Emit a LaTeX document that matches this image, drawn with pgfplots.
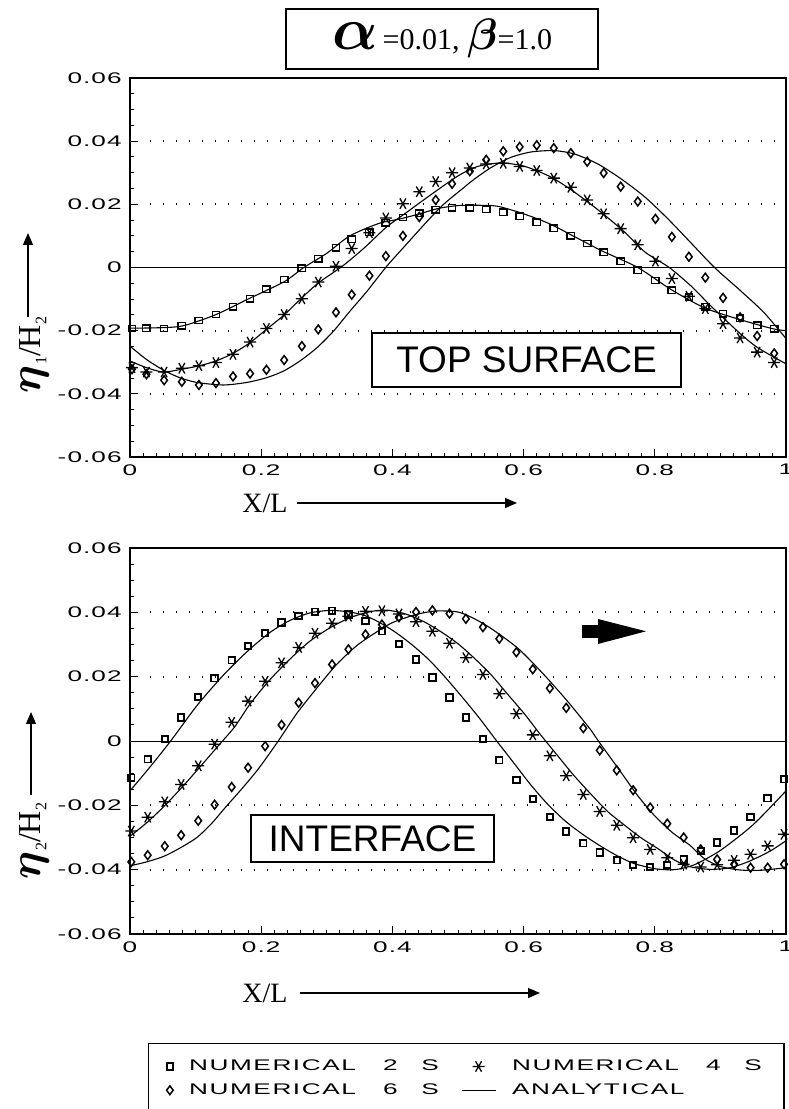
\RequirePackage{fix-cm}
\documentclass[border=0pt]{standalone}
\usepackage{amsmath}
\usepackage{bm}
\usepackage{graphicx}
\usepackage{fontspec}
\setmainfont{Liberation Serif}
\newfontfamily\labfont{Liberation Sans}[LetterSpace=4]
\newfontfamily\legfont{Liberation Sans}[LetterSpace=6]
\newfontfamily\boxfont{Liberation Sans}
\usepackage{pgfplots}
\pgfplotsset{compat=1.18}
\usetikzlibrary{arrows.meta}

\newcommand{\tl}[1]{\scalebox{1.7}[1]{\labfont\fontsize{7.7}{8}\selectfont #1}}
\newcommand{\lgd}[1]{\scalebox{1.7}[1]{\legfont\fontsize{7.7}{8}\selectfont #1}}

\pgfplotsset{
  myax/.style={
    scale only axis, width=328pt,
    xmin=0, xmax=1, ymin=-0.06, ymax=0.06,
    scaled y ticks=false, scaled x ticks=false,
    xtick={0,0.2,0.4,0.6,0.8,1},
    xticklabels={\tl{0},\tl{0.2},\tl{0.4},\tl{0.6},\tl{0.8},\tl{1}},
    ytick={-0.06,-0.04,-0.02,0,0.02,0.04,0.06},
    yticklabels={\tl{-0.06},\tl{-0.04},\tl{-0.02},\tl{0},\tl{0.02},\tl{0.04},\tl{0.06}},
    minor x tick num=9, minor y tick num=3,
    tick align=inside, tick pos=left,
    major tick length=4pt, minor tick length=2pt,
    tick style={line width=0.5pt, black},
    axis line style={line width=0.6pt},
    yticklabel style={anchor=east, inner sep=0pt, xshift=-4pt},
    xticklabel style={anchor=north, inner sep=0pt, yshift=-3.5pt},
  },
  sq/.style={only marks, mark=square, mark size=1.6pt, mark options={line width=0.7pt, xscale=1.15}},
  as/.style={only marks, mark=asterisk, mark size=3pt, mark options={line width=0.65pt, rotate=90}},
  dm/.style={only marks, mark=diamond, mark size=2.2pt, mark options={line width=0.75pt}},
  an/.style={no marks, line width=0.55pt, smooth, tension=0.45},
  dt/.style={forget plot, line width=0.9pt, dash pattern=on 0.9pt off 5.6pt},
}

\begin{document}
\begin{tikzpicture}
\useasboundingbox (0,0) rectangle (394pt,554.5pt);

% ---------------- TOP SURFACE ----------------
\begin{axis}[myax, at={(65pt,326pt)}, anchor=south west, height=189.5pt]
\addplot[forget plot, line width=0.5pt] coordinates {(0,0) (1,0)};
\addplot[dt] coordinates {(0.03,0.02) (1,0.02)};
\addplot[dt] coordinates {(0.03,0.04) (1,0.04)};
\addplot[dt] coordinates {(0.03,-0.02) (1,-0.02)};
\addplot[dt] coordinates {(0.03,-0.04) (1,-0.04)};

\addplot[sq] coordinates {
(0.003,-0.0193)(0.025,-0.0192)(0.052,-0.0193)(0.079,-0.0184)(0.105,-0.0168)
(0.131,-0.0149)(0.157,-0.0124)(0.183,-0.0099)(0.208,-0.0069)(0.235,-0.0038)
(0.262,-0.0002)(0.287,0.0028)(0.314,0.0062)(0.338,0.0090)(0.365,0.0112)
(0.390,0.0142)(0.416,0.0158)(0.441,0.0172)(0.466,0.0183)(0.491,0.0189)
(0.518,0.0189)(0.543,0.0184)(0.569,0.0175)(0.594,0.0162)(0.620,0.0144)
(0.646,0.0125)(0.672,0.0100)(0.697,0.0076)(0.722,0.0049)(0.748,0.0020)
(0.774,-0.0009)(0.801,-0.0041)(0.826,-0.0072)(0.852,-0.0094)(0.877,-0.0125)
(0.904,-0.0147)(0.930,-0.0160)(0.956,-0.0183)(0.982,-0.0194)};

\addplot[as] coordinates {
(0.003,-0.0317)(0.025,-0.0331)(0.052,-0.0331)(0.079,-0.0319)(0.105,-0.0311)
(0.131,-0.0301)(0.157,-0.0275)(0.183,-0.0236)(0.208,-0.0193)(0.235,-0.0149)
(0.262,-0.0099)(0.287,-0.0046)(0.314,0.0004)(0.338,0.0060)(0.365,0.0110)
(0.390,0.0157)(0.416,0.0202)(0.441,0.0240)(0.466,0.0272)(0.491,0.0300)
(0.518,0.0315)(0.543,0.0328)(0.569,0.0330)(0.594,0.0320)(0.620,0.0307)
(0.646,0.0283)(0.672,0.0254)(0.697,0.0214)(0.722,0.0170)(0.748,0.0123)
(0.774,0.0072)(0.801,0.0020)(0.826,-0.0035)(0.852,-0.0091)(0.877,-0.0130)
(0.904,-0.0178)(0.930,-0.0223)(0.956,-0.0268)(0.982,-0.0301)};

\addplot[dm] coordinates {
(0.003,-0.0322)(0.025,-0.0338)(0.052,-0.0357)(0.079,-0.0362)(0.105,-0.0372)
(0.131,-0.0366)(0.157,-0.0345)(0.183,-0.0336)(0.208,-0.0324)(0.235,-0.0293)
(0.262,-0.0249)(0.287,-0.0196)(0.314,-0.0142)(0.338,-0.0086)(0.365,-0.0026)
(0.390,0.0036)(0.416,0.0100)(0.441,0.0160)(0.466,0.0214)(0.491,0.0265)
(0.518,0.0305)(0.543,0.0341)(0.569,0.0368)(0.594,0.0382)(0.620,0.0387)
(0.646,0.0378)(0.672,0.0362)(0.697,0.0335)(0.722,0.0299)(0.748,0.0256)
(0.774,0.0209)(0.801,0.0154)(0.826,0.0097)(0.852,0.0034)(0.877,-0.0032)
(0.904,-0.0096)(0.930,-0.0158)(0.956,-0.0217)(0.982,-0.0272)};

\addplot[an] coordinates {
(0,-0.0192)(0.04,-0.0191)(0.08,-0.0185)(0.13,-0.0150)(0.18,-0.0100)(0.235,-0.0045)
(0.265,0)(0.30,0.0045)(0.335,0.0100)(0.38,0.0140)(0.41,0.0153)(0.44,0.0169)
(0.47,0.0187)(0.50,0.0196)(0.53,0.0197)(0.56,0.0194)(0.60,0.0170)(0.64,0.0138)
(0.68,0.0095)(0.72,0.0052)(0.774,0)(0.825,-0.0070)(0.876,-0.0128)(0.93,-0.0165)
(0.98,-0.0194)(1.0,-0.0200)};
\addplot[an] coordinates {
(0,-0.0296)(0.025,-0.0317)(0.051,-0.0331)(0.079,-0.0322)(0.104,-0.0312)(0.131,-0.0296)
(0.157,-0.0272)(0.183,-0.0238)(0.208,-0.0196)(0.234,-0.0152)(0.259,-0.0102)
(0.287,-0.0049)(0.323,0.0003)(0.356,0.0060)(0.391,0.0128)(0.422,0.0175)(0.457,0.0228)
(0.50,0.0290)(0.53,0.0320)(0.566,0.0331)(0.602,0.0320)(0.642,0.0286)(0.678,0.0238)
(0.718,0.0175)(0.754,0.0112)(0.785,0.0049)(0.822,0)(0.856,-0.0060)(0.886,-0.0123)
(0.929,-0.0207)(0.957,-0.0254)(1.0,-0.0305)};
\addplot[an] coordinates {
(0,-0.0249)(0.025,-0.0291)(0.051,-0.0325)(0.076,-0.0349)(0.102,-0.0364)(0.142,-0.0372)
(0.178,-0.0364)(0.208,-0.0349)(0.234,-0.0328)(0.259,-0.0296)(0.285,-0.0254)(0.31,-0.0202)
(0.335,-0.0139)(0.361,-0.0076)(0.391,0.0003)(0.422,0.0075)(0.452,0.0144)(0.478,0.0200)
(0.503,0.0243)(0.525,0.0280)(0.551,0.0317)(0.581,0.0349)(0.612,0.0366)(0.647,0.0370)
(0.678,0.0359)(0.713,0.0328)(0.749,0.0280)(0.785,0.0223)(0.82,0.0154)(0.856,0.0076)
(0.891,0)(0.932,-0.0076)(0.967,-0.0144)(1.0,-0.0225)};
\end{axis}

% ---------------- INTERFACE ----------------
\begin{axis}[myax, at={(65pt,87.5pt)}, anchor=south west, height=193pt,
  legend columns=2, legend cell align=left,
  legend style={at={(0.0274,-0.2824)}, anchor=north west, draw=black, line width=0.6pt,
    inner xsep=9pt, inner ysep=6pt, row sep=1pt,
    /tikz/every odd column/.append style={column sep=6pt},
    /tikz/every even column/.append style={column sep=9pt}},
  sq/.append style={mark options={line width=0.95pt}}]
\addplot[forget plot, line width=0.5pt] coordinates {(0,0) (1,0)};
\addplot[dt] coordinates {(0.03,0.02) (1,0.02)};
\addplot[dt] coordinates {(0.03,0.04) (1,0.04)};
\addplot[dt] coordinates {(0.03,-0.02) (1,-0.02)};
\addplot[dt] coordinates {(0.03,-0.04) (1,-0.04)};

\addplot[sq] coordinates {
(0.002,-0.0114)(0.027,-0.0057)(0.053,0.0006)(0.078,0.0073)(0.104,0.0137)
(0.129,0.0195)(0.155,0.0251)(0.180,0.0296)(0.206,0.0335)(0.231,0.0368)
(0.257,0.0388)(0.282,0.0402)(0.308,0.0405)(0.333,0.0393)(0.359,0.0373)
(0.384,0.0341)(0.410,0.0301)(0.436,0.0253)(0.461,0.0197)(0.487,0.0135)
(0.512,0.0073)(0.538,0.0006)(0.563,-0.0060)(0.589,-0.0122)(0.614,-0.0181)
(0.640,-0.0236)(0.665,-0.0281)(0.691,-0.0318)(0.716,-0.0347)(0.742,-0.0371)
(0.767,-0.0386)(0.793,-0.0391)(0.819,-0.0386)(0.844,-0.0368)(0.870,-0.0342)
(0.895,-0.0316)(0.921,-0.0278)(0.946,-0.0236)(0.972,-0.0178)(0.997,-0.0119)};
\addlegendentry{\lgd{NUMERICAL\hspace{8pt}2\hspace{7pt}S}}

\addplot[as] coordinates {
(0.002,-0.0280)(0.027,-0.0237)(0.053,-0.0189)(0.078,-0.0135)(0.104,-0.0077)
(0.129,-0.0010)(0.155,0.0058)(0.180,0.0124)(0.206,0.0186)(0.231,0.0243)
(0.257,0.0291)(0.282,0.0335)(0.308,0.0366)(0.333,0.0388)(0.359,0.0403)
(0.384,0.0405)(0.410,0.0395)(0.436,0.0371)(0.461,0.0341)(0.487,0.0304)
(0.512,0.0259)(0.538,0.0207)(0.563,0.0147)(0.589,0.0085)(0.614,0.0019)
(0.640,-0.0046)(0.665,-0.0108)(0.691,-0.0166)(0.716,-0.0219)(0.742,-0.0262)
(0.767,-0.0301)(0.793,-0.0337)(0.819,-0.0363)(0.844,-0.0383)(0.870,-0.0392)
(0.895,-0.0385)(0.921,-0.0371)(0.946,-0.0352)(0.972,-0.0326)(0.997,-0.0290)};
\addlegendentry{\lgd{NUMERICAL\hspace{8pt}4\hspace{7pt}S}}

\addplot[dm] coordinates {
(0.002,-0.0376)(0.027,-0.0355)(0.053,-0.0327)(0.078,-0.0293)(0.104,-0.0248)
(0.129,-0.0198)(0.155,-0.0143)(0.180,-0.0083)(0.206,-0.0016)(0.231,0.0050)
(0.257,0.0119)(0.282,0.0180)(0.308,0.0238)(0.333,0.0285)(0.359,0.0331)
(0.384,0.0362)(0.410,0.0385)(0.436,0.0401)(0.461,0.0406)(0.487,0.0396)
(0.512,0.0380)(0.538,0.0354)(0.563,0.0318)(0.589,0.0276)(0.614,0.0223)
(0.640,0.0164)(0.665,0.0103)(0.691,0.0040)(0.716,-0.0029)(0.742,-0.0091)
(0.767,-0.0153)(0.793,-0.0207)(0.819,-0.0257)(0.844,-0.0300)(0.870,-0.0337)
(0.895,-0.0368)(0.921,-0.0383)(0.946,-0.0394)(0.972,-0.0394)(0.997,-0.0383)};
\addlegendentry{\lgd{NUMERICAL\hspace{8pt}6\hspace{7pt}S}}

\addplot[an] coordinates {
(0,-0.0155)(0.03,-0.0082)(0.062,0)(0.102,0.0110)(0.142,0.0204)(0.178,0.0277)
(0.213,0.0337)(0.244,0.0375)(0.274,0.0398)(0.305,0.0406)(0.335,0.0401)(0.358,0.0390)
(0.379,0.0370)(0.404,0.0339)(0.430,0.0299)(0.456,0.0252)(0.481,0.0197)(0.507,0.0135)
(0.533,0.0070)(0.559,0)(0.585,-0.0068)(0.61,-0.0134)(0.636,-0.0195)(0.663,-0.0248)
(0.690,-0.0290)(0.716,-0.0325)(0.742,-0.0356)(0.767,-0.0380)
(0.80,-0.0397)(0.83,-0.0400)(0.86,-0.0385)(0.90,-0.0340)(0.95,-0.0260)(1.0,-0.0155)};
\addlegendentry{\lgd{ANALYTICAL}}
\addplot[an, forget plot] coordinates {
(0,-0.0296)(0.025,-0.0255)(0.051,-0.0205)(0.081,-0.0140)(0.112,-0.0068)(0.141,0)
(0.160,0.0045)(0.183,0.0115)(0.213,0.0190)(0.244,0.0255)(0.274,0.0310)(0.305,0.0352)
(0.335,0.0383)(0.366,0.0402)(0.391,0.0407)(0.420,0.0395)(0.448,0.0371)(0.473,0.0341)
(0.499,0.0304)(0.524,0.0259)(0.55,0.0207)(0.575,0.0147)(0.601,0.0085)(0.626,0.0019)
(0.652,-0.0046)(0.677,-0.0108)(0.703,-0.0166)(0.728,-0.0219)(0.754,-0.0262)(0.779,-0.0301)
(0.805,-0.0335)(0.830,-0.0370)(0.854,-0.0391)(0.884,-0.0399)(0.915,-0.0394)(0.945,-0.0373)
(0.976,-0.0342)(1.0,-0.0310)};
\addplot[an, forget plot] coordinates {
(0,-0.0388)(0.025,-0.0376)(0.051,-0.0359)(0.076,-0.0333)(0.102,-0.0300)(0.125,-0.0255)
(0.146,-0.0205)(0.172,-0.0145)(0.197,-0.0083)(0.226,0)(0.254,0.0085)(0.285,0.0165)
(0.315,0.0238)(0.346,0.0297)(0.376,0.0339)(0.40,0.0368)(0.434,0.0392)(0.465,0.0404)
(0.50,0.0401)(0.525,0.0380)(0.551,0.0349)(0.592,0.0287)(0.632,0.0204)(0.668,0.0121)
(0.703,0.0033)(0.714,0)(0.747,-0.0093)(0.774,-0.0170)(0.80,-0.0233)(0.827,-0.0285)
(0.854,-0.0325)(0.875,-0.0365)(0.90,-0.0390)(0.93,-0.0401)(0.96,-0.0402)(1.0,-0.0394)};
\end{axis}

% ---------------- annotations ----------------
\node[draw, line width=0.6pt, minimum width=156pt, minimum height=30pt, inner sep=0pt]
  at (221pt,535pt)
  {{\fontsize{30}{30}\selectfont$\bm{\alpha}$}{\fontsize{15}{15}\selectfont\,=0.01,\ }{\fontsize{22}{22}\selectfont$\bm{\beta}$}{\fontsize{15}{15}\selectfont=1.0}};

\node[draw, line width=0.6pt, fill=white, minimum width=154.5pt, minimum height=27pt, inner sep=0pt]
  at (263.25pt,374.5pt) {\boxfont\fontsize{18.5}{20}\selectfont TOP SURFACE};
\node[draw, line width=0.6pt, fill=white, minimum width=121.5pt, minimum height=23.5pt, inner sep=0pt]
  at (186.25pt,135.25pt) {\boxfont\fontsize{18.5}{20}\selectfont INTERFACE};

% x labels
\node at (132.5pt,303pt) {\fontsize{14}{14}\selectfont X/L};
\draw[line width=0.6pt, -{Triangle[length=6pt,width=5pt]}] (148.5pt,303pt) -- (258.5pt,303pt);
\node at (132.5pt,58pt) {\fontsize{14}{14}\selectfont X/L};
\draw[line width=0.6pt, -{Triangle[length=6pt,width=5pt]}] (150pt,58pt) -- (270pt,58pt);

% y labels
\draw[line width=0.6pt, -{Triangle[length=6pt,width=5pt]}] (14pt,396pt) -- (14pt,438pt);
\node[rotate=90] at (17pt,377pt)
  {{\fontsize{22}{22}\selectfont$\bm{\eta}$}\raisebox{-3pt}{\fontsize{8}{8}\selectfont 1}{\fontsize{16}{16}\selectfont/H}\raisebox{-3pt}{\fontsize{8}{8}\selectfont 2}};
\draw[line width=0.6pt, -{Triangle[length=6pt,width=5pt]}] (15.5pt,157pt) -- (15.5pt,198.5pt);
\node[rotate=90] at (17pt,134pt)
  {{\fontsize{22}{22}\selectfont$\bm{\eta}$}\raisebox{-3pt}{\fontsize{8}{8}\selectfont 2}{\fontsize{16}{16}\selectfont/H}\raisebox{-3pt}{\fontsize{8}{8}\selectfont 2}};

% propagation arrow
\fill (291pt,242.2pt) rectangle (299pt,235.5pt);
\fill (299pt,245pt) -- (323pt,238.85pt) -- (299pt,232.5pt) -- cycle;
\end{tikzpicture}
\end{document}
